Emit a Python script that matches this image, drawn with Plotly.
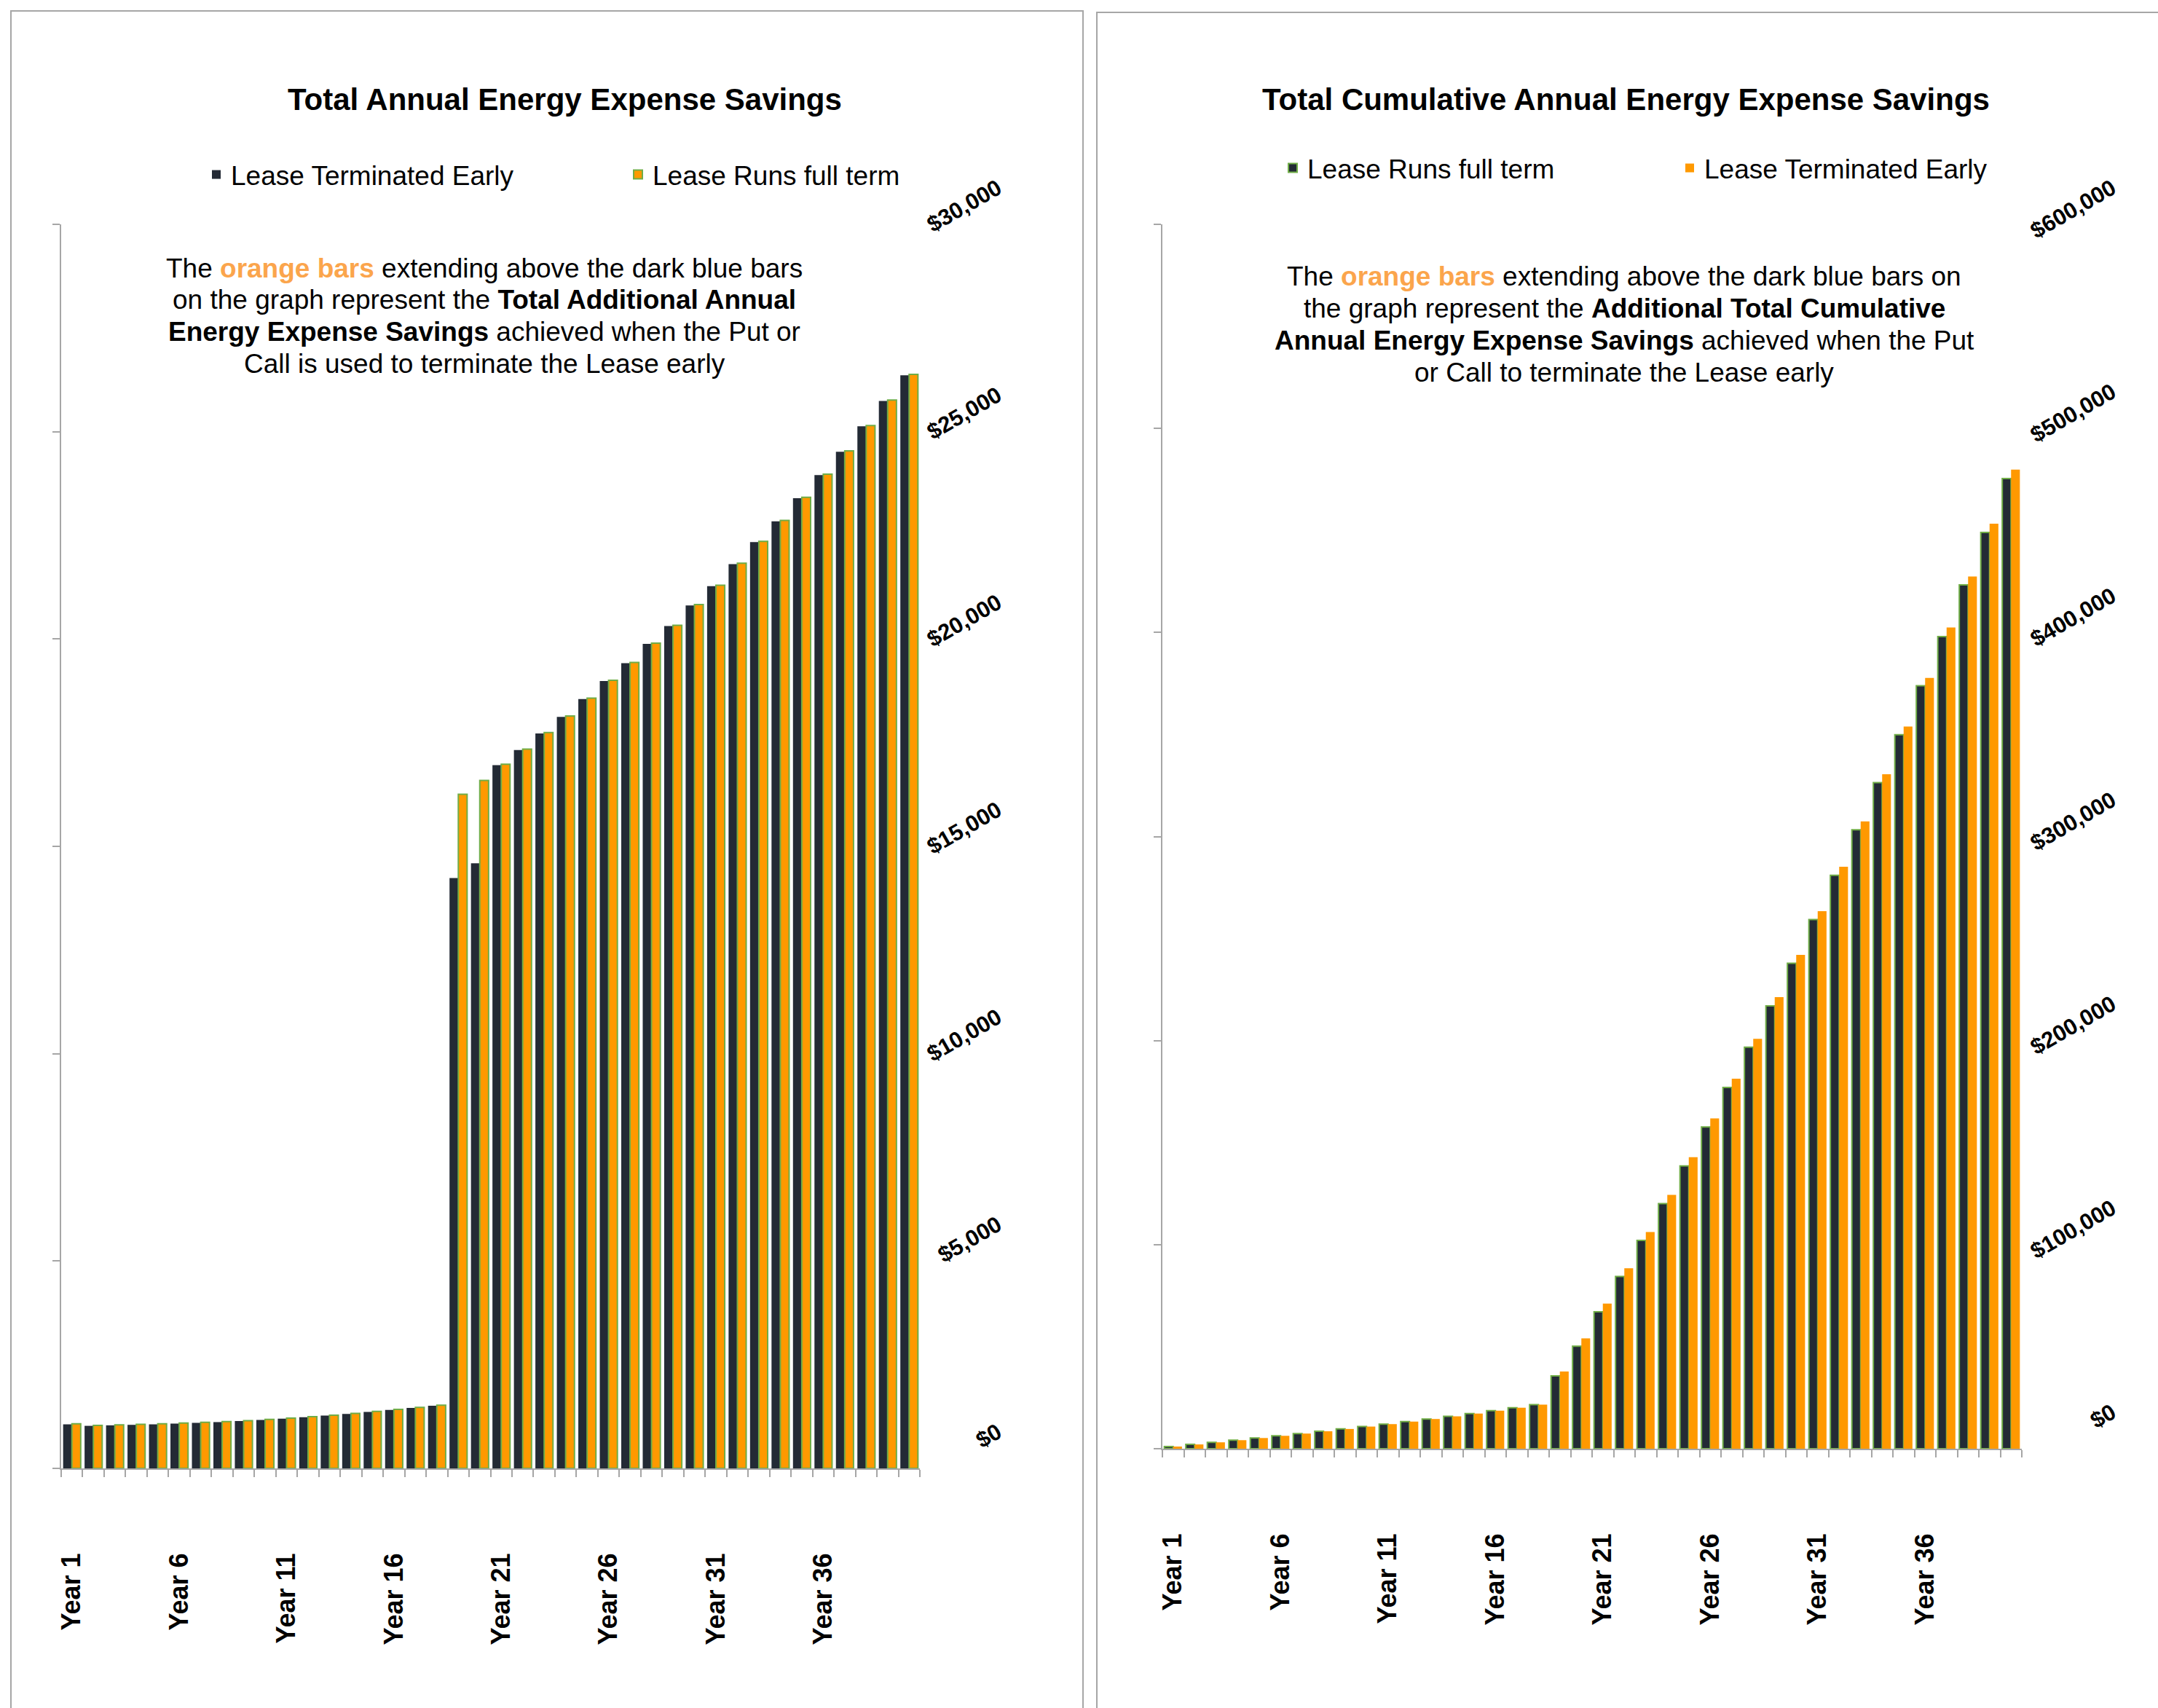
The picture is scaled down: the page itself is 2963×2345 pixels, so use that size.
import plotly.graph_objects as go

# ---------------------------------------------------------------- data
years = list(range(1, 41))
label_years = [1, 6, 11, 16, 21, 26, 31, 36]
label_text = [f"Year {y}" for y in label_years]

# Total annual savings ($)
annual_terminated_early = [
    1062, 1026, 1038, 1050, 1062, 1080, 1098, 1116, 1140, 1170,
    1200, 1236, 1272, 1314, 1362, 1410, 1458, 1512, 14234, 14592,
    16960, 17325, 17723, 18122, 18553, 18985, 19416, 19881, 20312, 20810,
    21275, 21806, 22337, 22840, 23397, 23954, 24517, 25129, 25742, 26360,
]
annual_full_term = [
    1074, 1038, 1050, 1062, 1074, 1092, 1110, 1128, 1152, 1182,
    1212, 1248, 1284, 1326, 1374, 1422, 1470, 1524, 16257, 16589,
    16980, 17345, 17743, 18142, 18573, 19005, 19436, 19901, 20332, 20830,
    21295, 21826, 22357, 22860, 23417, 23974, 24537, 25149, 25762, 26380,
]

# Total cumulative savings ($)
cumulative_full_term = [
    1070, 2100, 3140, 4190, 5250, 6330, 7430, 8550, 9690, 10860,
    12060, 13300, 14570, 15880, 17240, 18650, 20100, 21610, 35700, 50200,
    67100, 84400, 102100, 120100, 138600, 157700, 177000, 196800, 217000, 237900,
    259300, 281000, 303300, 326400, 349900, 373900, 398000, 423300, 449000, 475400,
]
cumulative_terminated_early = [
    1060, 2090, 3130, 4180, 5240, 6320, 7420, 8540, 9680, 10850,
    12050, 13290, 14560, 15870, 17230, 18640, 20090, 21600, 37800, 54100,
    71100, 88400, 106200, 124400, 142900, 161900, 181300, 200900, 221300, 242000,
    263400, 285200, 307400, 330500, 353900, 377700, 402400, 427400, 453300, 479800,
]

# ---------------------------------------------------------------- style
W, H = 2963, 2345
FONT = "Liberation Sans, Arial, sans-serif"
DARK = "#232A35"
ORANGE = "#FF9900"
GREEN = "#70AD47"
GRAY = "#A6A6A6"
TEXT_ORANGE = "#FBA54C"


def px_x(v):
    return v / W


def px_y(v):
    return 1 - v / H


fig = go.Figure()

# Left chart: annual savings
fig.add_trace(go.Bar(
    x=years, y=annual_terminated_early, name="Lease Terminated Early",
    marker=dict(color=DARK, line=dict(color=DARK, width=0)),
    xaxis="x", yaxis="y", legend="legend",
))
fig.add_trace(go.Bar(
    x=years, y=annual_full_term, name="Lease Runs full term",
    marker=dict(color=ORANGE, line=dict(color=GREEN, width=2)),
    xaxis="x", yaxis="y", legend="legend",
))

# Right chart: cumulative savings
fig.add_trace(go.Bar(
    x=years, y=cumulative_full_term, name="Lease Runs full term",
    marker=dict(color=DARK, line=dict(color=GREEN, width=2)),
    xaxis="x2", yaxis="y2", legend="legend2",
))
fig.add_trace(go.Bar(
    x=years, y=cumulative_terminated_early, name="Lease Terminated Early",
    marker=dict(color=ORANGE, line=dict(color=ORANGE, width=0)),
    xaxis="x2", yaxis="y2", legend="legend2",
))

# Empty helper traces so the dollar-label axes get drawn
for xa, ya in (("x", "y3"), ("x2", "y4")):
    fig.add_trace(go.Scatter(x=[], y=[], xaxis=xa, yaxis=ya, mode="markers",
                             showlegend=False, hoverinfo="skip"))

left_dom = [px_x(84), px_x(1263)]
right_dom = [px_x(1596), px_x(2776)]


def x_axis(domain, anchor):
    return dict(
        domain=domain, anchor=anchor, range=[0.5, 40.5], automargin=False,
        showline=True, linecolor=GRAY, linewidth=2,
        showgrid=False, zeroline=False,
        tickmode="array", tickvals=label_years, ticktext=label_text,
        ticks="", tickangle=-90, ticklabelstandoff=100,
        tickfont=dict(family=FONT, size=36, color="black", weight="bold"),
        minor=dict(ticks="outside", tick0=0.5, dtick=1, ticklen=10,
                   tickcolor=GRAY, tickwidth=2, showgrid=False),
        fixedrange=True,
    )


def y_axis(domain, anchor, top, step):
    return dict(
        domain=domain, anchor=anchor, range=[0, top], automargin=False,
        tick0=0, dtick=step, ticks="outside", ticklen=10,
        tickcolor=GRAY, tickwidth=2,
        showline=True, linecolor=GRAY, linewidth=2,
        showticklabels=False, showgrid=False, zeroline=False,
    )


def label_axis(over, pos, top, step):
    return dict(
        overlaying=over, anchor="free", position=pos, side="left",
        range=[0, top], tick0=0, dtick=step, automargin=False,
        tickprefix="$", tickformat=",d", tickangle=-30,
        ticklabelshift=-53,
        tickfont=dict(family=FONT, size=31, color="black", weight="bold"),
        showline=False, ticks="", showgrid=False, zeroline=False,
    )


fig.update_layout(
    width=W, height=H,
    margin=dict(l=0, r=0, t=0, b=0, autoexpand=False),
    paper_bgcolor="white", plot_bgcolor="rgba(0,0,0,0)",
    barmode="group", bargap=0.18, bargroupgap=0,
    font=dict(family=FONT, color="black"),
    xaxis=x_axis(left_dom, "y"),
    yaxis=y_axis([px_y(2016), px_y(308)], "x", 30000, 5000),
    xaxis2=x_axis(right_dom, "y2"),
    yaxis2=y_axis([px_y(1989), px_y(308)], "x2", 600000, 100000),
    yaxis3=label_axis("y", px_x(1370), 30000, 5000),
    yaxis4=label_axis("y2", px_x(2900), 600000, 100000),
    legend=dict(
        orientation="h", x=px_x(277), y=px_y(240), xanchor="left", yanchor="middle",
        font=dict(family=FONT, size=37, color="black"),
        entrywidth=534, bgcolor="rgba(0,0,0,0)", traceorder="normal",
    ),
    legend2=dict(
        orientation="h", x=px_x(1755), y=px_y(231), xanchor="left", yanchor="middle",
        font=dict(family=FONT, size=37, color="black"),
        entrywidth=500, bgcolor="rgba(0,0,0,0)", traceorder="normal",
    ),
    showlegend=True,
)

# Panel frames
fig.add_shape(type="rect", xref="paper", yref="paper",
              x0=px_x(15), x1=px_x(1487), y0=-0.05, y1=px_y(15),
              line=dict(color=GRAY, width=2), fillcolor="rgba(0,0,0,0)", layer="below")
fig.add_shape(type="rect", xref="paper", yref="paper",
              x0=px_x(1506), x1=1.05, y0=-0.05, y1=px_y(17),
              line=dict(color=GRAY, width=2), fillcolor="rgba(0,0,0,0)", layer="below")

# Titles
for text, cx in (("<b>Total Annual Energy Expense Savings</b>", 775),
                 ("<b>Total Cumulative Annual Energy Expense Savings</b>", 2232)):
    fig.add_annotation(text=text, xref="paper", yref="paper",
                       x=px_x(cx), y=px_y(136), xanchor="center", yanchor="middle",
                       showarrow=False, font=dict(family=FONT, size=42, color="black"))

orange_words = f"<span style='color:{TEXT_ORANGE}'><b>orange bars</b></span>"
left_note = [
    f"The {orange_words} extending above the dark blue bars",
    "on the graph represent the <b>Total Additional Annual</b>",
    "<b>Energy Expense Savings</b> achieved when the Put or",
    "Call is used to terminate the Lease early",
]
right_note = [
    f"The {orange_words} extending above the dark blue bars on",
    "the graph represent the <b>Additional Total Cumulative</b>",
    "<b>Annual Energy Expense Savings</b> achieved when the Put",
    "or Call to terminate the Lease early",
]
for lines, cx, top in ((left_note, 665, 368), (right_note, 2230, 380)):
    for i, line in enumerate(lines):
        fig.add_annotation(text=line, xref="paper", yref="paper",
                           x=px_x(cx), y=px_y(top + 43.7 * i),
                           xanchor="center", yanchor="middle", showarrow=False,
                           font=dict(family=FONT, size=37, color="black"))

fig.write_html("out.html")
